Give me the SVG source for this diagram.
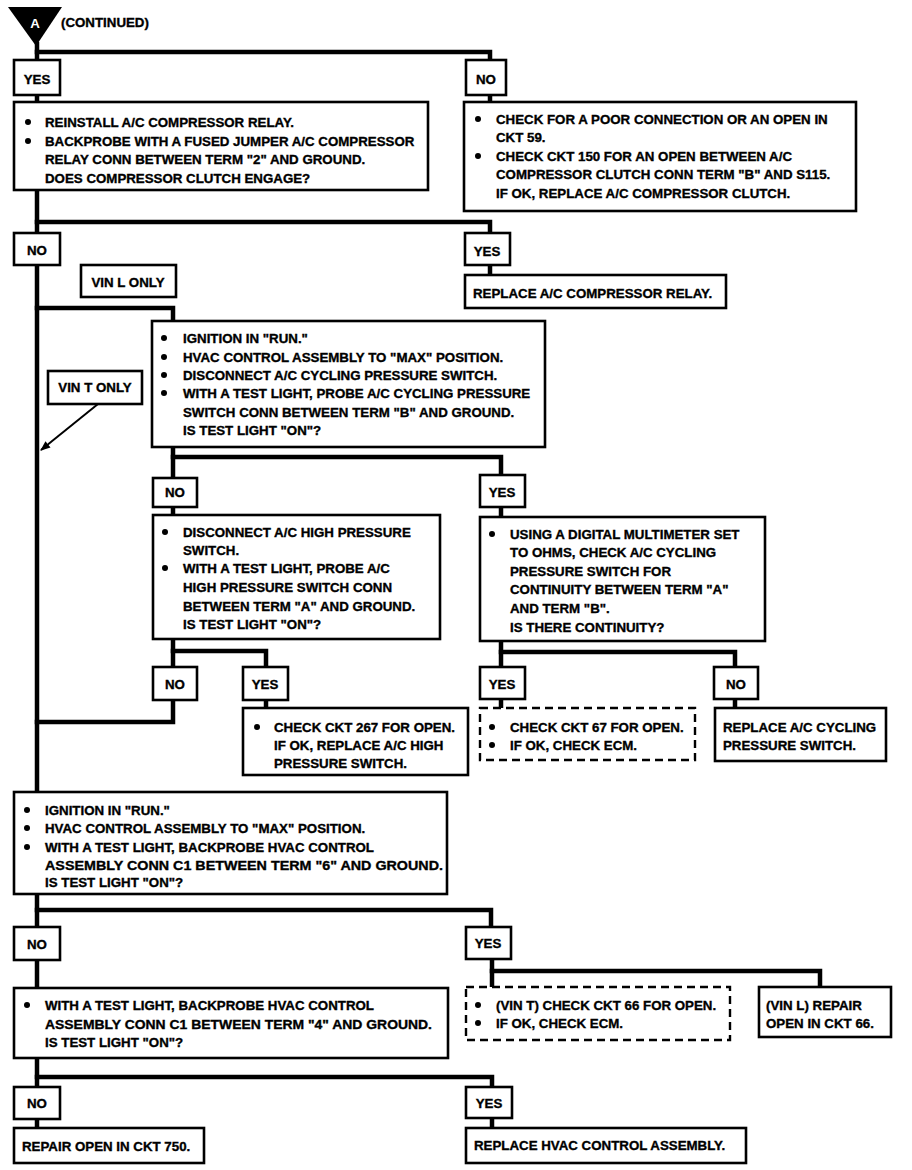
<svg xmlns="http://www.w3.org/2000/svg" width="912" height="1170" viewBox="0 0 912 1170">
<style>
text{font-family:"Liberation Sans","Arial",sans-serif;font-weight:bold;font-size:13.3px;fill:#000;stroke:#000;stroke-width:0.35}
.box{fill:#fff;stroke:#000;stroke-width:2.6}
.dash{fill:#fff;stroke:#000;stroke-width:2.4;stroke-dasharray:8 5}
.lbl{text-anchor:middle}
.wire{fill:none;stroke:#000;stroke-width:4.5;stroke-linecap:square}
.thin{fill:none;stroke:#000;stroke-width:2}
</style>
<defs>
<marker id="ah" markerWidth="10" markerHeight="10" refX="9" refY="5" orient="auto" markerUnits="userSpaceOnUse">
<path d="M0,1 L10,5 L0,9 Z" fill="#000"/>
</marker>
</defs>
<rect width="912" height="1170" fill="#fff"/>

<g id="connectors">
<path class="wire" d="M37,44 V60"/>
<path class="wire" d="M37,52 H490 V60"/>
<path class="wire" d="M37,95 V102"/>
<path class="wire" d="M490,95 V102"/>
<path class="wire" d="M37,190 V233"/>
<path class="wire" d="M37,222 H490 V233"/>
<path class="wire" d="M490,265 V275"/>
<path class="wire" d="M37,265 V792"/>
<path class="wire" d="M37,308 H173 V478"/>
<path class="wire" d="M173,457 H501 V475"/>
<path class="wire" d="M501,507 V517"/>
<path class="wire" d="M173,507 V515"/>
<path class="wire" d="M173,639 V667"/>
<path class="wire" d="M173,651 H266 V667"/>
<path class="wire" d="M266,700 V708"/>
<path class="wire" d="M173,700 V722 H37"/>
<path class="wire" d="M501,641 V667"/>
<path class="wire" d="M501,652 H735 V667"/>
<path class="wire" d="M501,699 V708"/>
<path class="wire" d="M735,699 V708"/>
<path class="wire" d="M37,894 V927"/>
<path class="wire" d="M37,910 H491 V927"/>
<path class="wire" d="M37,960 V988"/>
<path class="wire" d="M492,959 V987"/>
<path class="wire" d="M492,971 H820 V987"/>
<path class="wire" d="M37,1058 V1087"/>
<path class="wire" d="M37,1077 H492 V1087"/>
<path class="wire" d="M37,1119 V1128"/>
<path class="wire" d="M492,1118 V1128"/>
<path class="thin" d="M98,404 L41,450" marker-end="url(#ah)"/>
</g>

<g id="start">
<polygon points="8,7 62,7 36,46" fill="#000"/>
<text x="35" y="28" class="lbl" font-size="17" style="fill:#fff;stroke:none">A</text>
<text x="61" y="27">(CONTINUED)</text>
</g>

<g id="yes1"><rect class="box" x="14" y="60" width="46" height="35"/><text class="lbl" x="37" y="84">YES</text></g>
<g id="no1"><rect class="box" x="466" y="60" width="40" height="35"/><text class="lbl" x="486" y="84">NO</text></g>

<g id="box1">
<rect class="box" x="14" y="102" width="414" height="88"/>
<circle cx="28" cy="122" r="3"/><circle cx="28" cy="141" r="3"/>
<text x="45" y="127">REINSTALL A/C COMPRESSOR RELAY.</text>
<text x="45" y="146">BACKPROBE WITH A FUSED JUMPER A/C COMPRESSOR</text>
<text x="45" y="164">RELAY CONN BETWEEN TERM "2" AND GROUND.</text>
<text x="45" y="183">DOES COMPRESSOR CLUTCH ENGAGE?</text>
</g>

<g id="box2">
<rect class="box" x="464" y="102" width="392" height="109"/>
<circle cx="478" cy="119" r="3"/><circle cx="478" cy="156" r="3"/>
<text x="496" y="124">CHECK FOR A POOR CONNECTION OR AN OPEN IN</text>
<text x="496" y="142">CKT 59.</text>
<text x="496" y="161">CHECK CKT 150 FOR AN OPEN BETWEEN A/C</text>
<text x="496" y="179">COMPRESSOR CLUTCH CONN TERM "B" AND S115.</text>
<text x="496" y="198">IF OK, REPLACE A/C COMPRESSOR CLUTCH.</text>
</g>

<g id="no2"><rect class="box" x="14" y="233" width="46" height="32"/><text class="lbl" x="37" y="255">NO</text></g>
<g id="yes2"><rect class="box" x="465" y="233" width="45" height="32"/><text class="lbl" x="487" y="256">YES</text></g>

<g id="replace-relay">
<rect class="box" x="465" y="275" width="261" height="33"/>
<text x="473" y="298">REPLACE A/C COMPRESSOR RELAY.</text>
</g>

<g id="vin-l-only"><rect class="box" x="81" y="265" width="95" height="32"/><text class="lbl" x="128" y="287">VIN L ONLY</text></g>
<g id="vin-t-only"><rect class="box" x="48" y="371" width="94" height="33"/><text class="lbl" x="95" y="392">VIN T ONLY</text></g>

<g id="box3">
<rect class="box" x="152" y="321" width="393" height="126"/>
<circle cx="164" cy="338" r="3"/><circle cx="164" cy="357" r="3"/><circle cx="164" cy="375" r="3"/><circle cx="164" cy="393" r="3"/>
<text x="183" y="343">IGNITION IN "RUN."</text>
<text x="183" y="362">HVAC CONTROL ASSEMBLY TO "MAX" POSITION.</text>
<text x="183" y="380">DISCONNECT A/C CYCLING PRESSURE SWITCH.</text>
<text x="183" y="398">WITH A TEST LIGHT, PROBE A/C CYCLING PRESSURE</text>
<text x="183" y="417">SWITCH CONN BETWEEN TERM "B" AND GROUND.</text>
<text x="183" y="435">IS TEST LIGHT "ON"?</text>
</g>

<g id="no3"><rect class="box" x="153" y="478" width="44" height="29"/><text class="lbl" x="175" y="497">NO</text></g>
<g id="yes3"><rect class="box" x="480" y="475" width="45" height="32"/><text class="lbl" x="502" y="497">YES</text></g>

<g id="box4">
<rect class="box" x="153" y="515" width="287" height="124"/>
<circle cx="165" cy="532" r="3"/><circle cx="165" cy="568" r="3"/>
<text x="183" y="537">DISCONNECT A/C HIGH PRESSURE</text>
<text x="183" y="555">SWITCH.</text>
<text x="183" y="573">WITH A TEST LIGHT, PROBE A/C</text>
<text x="183" y="592">HIGH PRESSURE SWITCH CONN</text>
<text x="183" y="611">BETWEEN TERM "A" AND GROUND.</text>
<text x="183" y="629">IS TEST LIGHT "ON"?</text>
</g>

<g id="box5">
<rect class="box" x="480" y="517" width="285" height="124"/>
<circle cx="492" cy="534" r="3"/>
<text x="510" y="539">USING A DIGITAL MULTIMETER SET</text>
<text x="510" y="557">TO OHMS, CHECK A/C CYCLING</text>
<text x="510" y="576">PRESSURE SWITCH FOR</text>
<text x="510" y="594">CONTINUITY BETWEEN TERM "A"</text>
<text x="510" y="613">AND TERM "B".</text>
<text x="510" y="632">IS THERE CONTINUITY?</text>
</g>

<g id="no4"><rect class="box" x="153" y="667" width="44" height="33"/><text class="lbl" x="175" y="689">NO</text></g>
<g id="yes4"><rect class="box" x="243" y="667" width="45" height="33"/><text class="lbl" x="265" y="689">YES</text></g>
<g id="yes5"><rect class="box" x="480" y="667" width="45" height="32"/><text class="lbl" x="502" y="689">YES</text></g>
<g id="no5"><rect class="box" x="714" y="667" width="44" height="32"/><text class="lbl" x="736" y="689">NO</text></g>

<g id="ckt267">
<rect class="box" x="243" y="708" width="225" height="67"/>
<circle cx="257" cy="727" r="3"/>
<text x="274" y="732">CHECK CKT 267 FOR OPEN.</text>
<text x="274" y="750">IF OK, REPLACE A/C HIGH</text>
<text x="274" y="768">PRESSURE SWITCH.</text>
</g>

<g id="ckt67">
<rect class="dash" x="480" y="708" width="215" height="52"/>
<circle cx="492" cy="727" r="3"/><circle cx="492" cy="745" r="3"/>
<text x="510" y="732">CHECK CKT 67 FOR OPEN.</text>
<text x="510" y="750">IF OK, CHECK ECM.</text>
</g>

<g id="replace-cycling">
<rect class="box" x="715" y="708" width="171" height="53"/>
<text x="723" y="732">REPLACE A/C CYCLING</text>
<text x="723" y="750">PRESSURE SWITCH.</text>
</g>

<g id="box6">
<rect class="box" x="14" y="792" width="433" height="102"/>
<circle cx="27" cy="810" r="3"/><circle cx="27" cy="828" r="3"/><circle cx="27" cy="847" r="3"/>
<text x="45" y="815">IGNITION IN "RUN."</text>
<text x="45" y="833">HVAC CONTROL ASSEMBLY TO "MAX" POSITION.</text>
<text x="45" y="852">WITH A TEST LIGHT, BACKPROBE HVAC CONTROL</text>
<text x="45" y="870" textLength="398" lengthAdjust="spacingAndGlyphs">ASSEMBLY CONN C1 BETWEEN TERM "6" AND GROUND.</text>
<text x="45" y="887">IS TEST LIGHT "ON"?</text>
</g>

<g id="no6"><rect class="box" x="14" y="927" width="46" height="33"/><text class="lbl" x="37" y="949">NO</text></g>
<g id="yes6"><rect class="box" x="466" y="927" width="45" height="32"/><text class="lbl" x="488" y="948">YES</text></g>

<g id="box7">
<rect class="box" x="14" y="988" width="434" height="70"/>
<circle cx="27" cy="1005" r="3"/>
<text x="45" y="1010">WITH A TEST LIGHT, BACKPROBE HVAC CONTROL</text>
<text x="45" y="1029" textLength="387" lengthAdjust="spacingAndGlyphs">ASSEMBLY CONN C1 BETWEEN TERM "4" AND GROUND.</text>
<text x="45" y="1047">IS TEST LIGHT "ON"?</text>
</g>

<g id="ckt66">
<rect class="dash" x="466" y="987" width="264" height="53"/>
<circle cx="478" cy="1005" r="3"/><circle cx="478" cy="1023" r="3"/>
<text x="496" y="1010">(VIN T) CHECK CKT 66 FOR OPEN.</text>
<text x="496" y="1028">IF OK, CHECK ECM.</text>
</g>

<g id="vinl-repair">
<rect class="box" x="759" y="987" width="132" height="50"/>
<text x="766" y="1010">(VIN L) REPAIR</text>
<text x="766" y="1028">OPEN IN CKT 66.</text>
</g>

<g id="no7"><rect class="box" x="14" y="1087" width="46" height="32"/><text class="lbl" x="37" y="1108">NO</text></g>
<g id="yes7"><rect class="box" x="466" y="1087" width="46" height="31"/><text class="lbl" x="489" y="1108">YES</text></g>

<g id="repair750">
<rect class="box" x="14" y="1128" width="190" height="35"/>
<text x="22" y="1151">REPAIR OPEN IN CKT 750.</text>
</g>

<g id="replace-hvac">
<rect class="box" x="466" y="1128" width="280" height="35"/>
<text x="474" y="1150">REPLACE HVAC CONTROL ASSEMBLY.</text>
</g>
</svg>
